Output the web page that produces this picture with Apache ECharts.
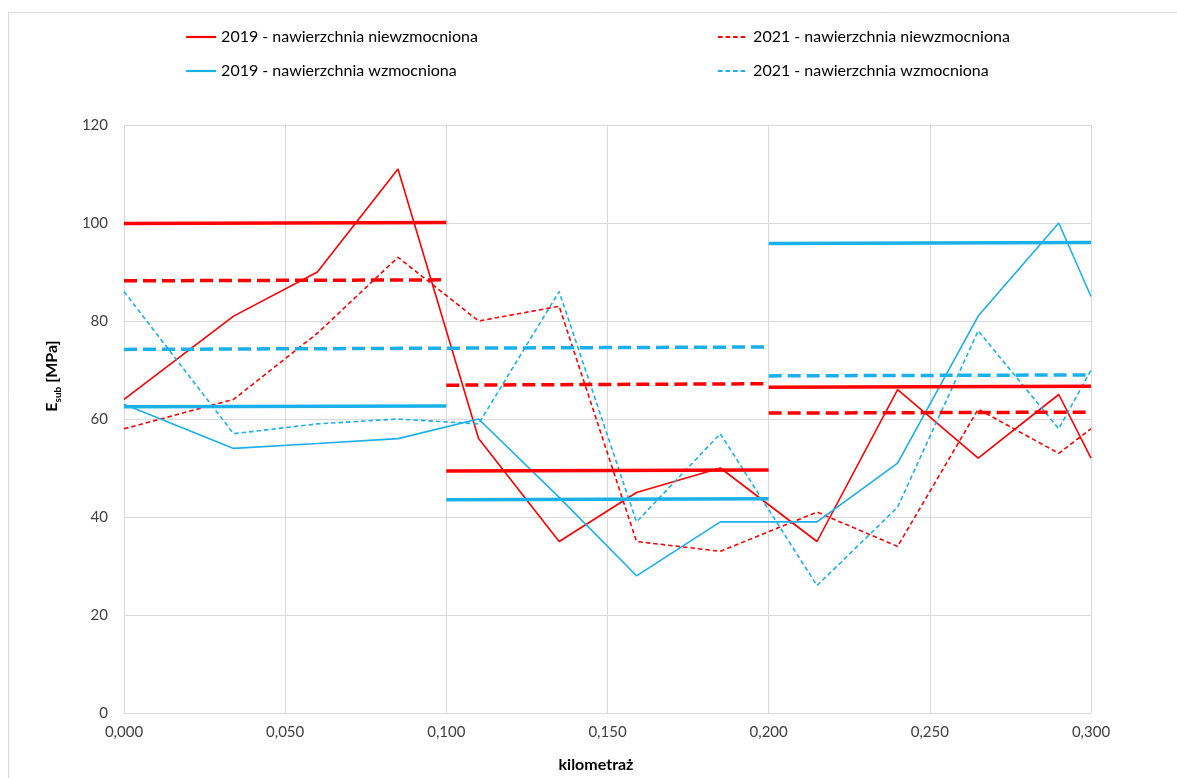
<!DOCTYPE html>
<html>
<head>
<meta charset="utf-8">
<title>Esub – kilometraż</title>
<script src="https://cdn.jsdelivr.net/npm/echarts@6/dist/echarts.min.js"></script>
<style>
  html, body { margin: 0; padding: 0; background: #ffffff; }
  #chart { width: 1177px; height: 778px; }
</style>
</head>
<body>
<div id="chart"></div>
<script>
// Measurement stations along the section [km]
const km = [0, 0.034, 0.060, 0.085, 0.110, 0.135, 0.159, 0.185, 0.215, 0.240, 0.265, 0.290, 0.300];

// Esub values [MPa] at each station
const niewzm2019 = [64, 81, 90, 111, 56, 35, 45, 50, 35, 66, 52, 65, 52];
const niewzm2021 = [58, 64, 77.5, 93, 80, 83, 35, 33, 41, 34, 62, 53, 58];
const wzm2019 = [63, 54, 55, 56, 60, 44, 28, 39, 39, 51, 81, 100, 85];
const wzm2021 = [86, 57, 59, 60, 59, 86, 39, 57, 26, 42, 78, 58, 70];

// Section averages: start/end chainage and level at both ends
const secStart = [0, 0.1, 0.2];
const secEnd = [0.1, 0.2, 0.3];
const meanN2019From = [99.9, 49.4, 66.5];
const meanN2019To = [100.1, 49.6, 66.7];
const meanN2021From = [88.2, 66.9, 61.2];
const meanN2021To = [88.4, 67.2, 61.4];
const meanW2019From = [62.5, 43.5, 95.8];
const meanW2019To = [62.65, 43.7, 96.0];
// reinforced 2021 average spans two sections at once
const secStartW2021 = [0, 0.2];
const secEndW2021 = [0.2, 0.3];
const meanW2021From = [74.2, 68.8];
const meanW2021To = [74.7, 69.0];

// Axis ticks
const xTicks = { min: 0, max: 0.3, interval: 0.05 };
const yTicks = { min: 0, max: 120, interval: 20 };

const names = [
  '2019 - nawierzchnia niewzmocniona',
  '2021 - nawierzchnia niewzmocniona',
  '2019 - nawierzchnia wzmocniona',
  '2021 - nawierzchnia wzmocniona'
];

const RED = '#FF0000';
const BLUE = '#1AB0EC';
const FONT = 'Lato, "Open Sans", sans-serif';

const pairs = (xs, ys) => xs.map((x, i) => [x, ys[i]]);

function thinLine(name, values, color, dashed) {
  return {
    name: name,
    type: 'line',
    data: pairs(km, values),
    symbol: 'none',
    clip: true,
    lineStyle: { color: color, width: 1.6, type: dashed ? [4.5, 3] : 'solid' },
    itemStyle: { color: color },
    emphasis: { disabled: true },
    z: 2
  };
}

function meanLines(tag, starts, ends, from, to, color, dashed) {
  return starts.map((s, i) => ({
    name: tag + ' ' + i,
    type: 'line',
    data: [[s, from[i]], [ends[i], to[i]]],
    symbol: 'none',
    lineStyle: { color: color, width: 3.5, type: dashed ? [13, 6] : 'solid' },
    emphasis: { disabled: true },
    z: 3
  }));
}

const series = [
  thinLine(names[0], niewzm2019, RED, false),
  thinLine(names[1], niewzm2021, RED, true),
  thinLine(names[2], wzm2019, BLUE, false),
  thinLine(names[3], wzm2021, BLUE, true)
]
  .concat(meanLines('avgN2019', secStart, secEnd, meanN2019From, meanN2019To, RED, false))
  .concat(meanLines('avgN2021', secStart, secEnd, meanN2021From, meanN2021To, RED, true))
  .concat(meanLines('avgW2019', secStart, secEnd, meanW2019From, meanW2019To, BLUE, false))
  .concat(meanLines('avgW2021', secStartW2021, secEndW2021, meanW2021From, meanW2021To, BLUE, true));

// Legend placement: two columns, two rows
const legendPos = [
  { left: 185, top: 29 },
  { left: 717, top: 29 },
  { left: 185, top: 63 },
  { left: 717, top: 63 }
];

const legends = names.map((n, i) => ({
  data: [n],
  left: legendPos[i].left,
  top: legendPos[i].top,
  padding: 0,
  itemWidth: 30,
  itemHeight: 14,
  selectedMode: false,
  itemStyle: { opacity: 0 },
  lineStyle: { width: 2.2 },
  textStyle: { fontFamily: FONT, fontSize: 16, color: '#000000' }
}));

const chart = echarts.init(document.getElementById('chart'), null, { renderer: 'canvas' });

chart.setOption({
  animation: false,
  backgroundColor: '#ffffff',
  legend: legends,
  grid: { left: 124, right: 86, top: 125, bottom: 65 },
  xAxis: {
    type: 'value',
    min: xTicks.min,
    max: xTicks.max,
    interval: xTicks.interval,
    axisLine: { show: true, lineStyle: { color: '#D9D9D9', width: 1 } },
    axisTick: { show: false },
    splitLine: { show: true, lineStyle: { color: '#D9D9D9', width: 1 } },
    axisLabel: {
      margin: 12,
      color: '#404040',
      fontFamily: FONT,
      fontSize: 15,
      formatter: v => v.toFixed(3).replace('.', ',')
    }
  },
  yAxis: {
    type: 'value',
    min: yTicks.min,
    max: yTicks.max,
    interval: yTicks.interval,
    axisLine: { show: false },
    axisTick: { show: false },
    splitLine: { show: true, lineStyle: { color: '#D9D9D9', width: 1 } },
    axisLabel: {
      margin: 16,
      color: '#404040',
      fontFamily: FONT,
      fontSize: 15
    }
  },
  graphic: [
    {
      type: 'rect',
      silent: true,
      shape: { x: 8.5, y: 12.5, width: 1300, height: 900 },
      style: { fill: 'none', stroke: '#D9D9D9', lineWidth: 1 },
      z: -10
    },
    {
      type: 'text',
      silent: true,
      x: 52,
      y: 376,
      rotation: Math.PI / 2,
      style: {
        text: '{e|E}{s|sub}{e| [MPa]}',
        align: 'center',
        verticalAlign: 'middle',
        fill: '#000000',
        rich: {
          e: { fontFamily: FONT, fontSize: 16, fontWeight: 'bold', lineHeight: 22, verticalAlign: 'middle', fill: '#000000' },
          s: { fontFamily: FONT, fontSize: 10, fontWeight: 'bold', lineHeight: 10, verticalAlign: 'bottom', fill: '#000000' }
        }
      }
    },
    {
      type: 'text',
      silent: true,
      x: 596,
      y: 765,
      style: {
        text: 'kilometraż',
        align: 'center',
        verticalAlign: 'middle',
        fontFamily: FONT,
        fontSize: 16,
        fontWeight: 'bold',
        fill: '#000000'
      }
    }
  ],
  series: series
});
</script>
</body>
</html>
